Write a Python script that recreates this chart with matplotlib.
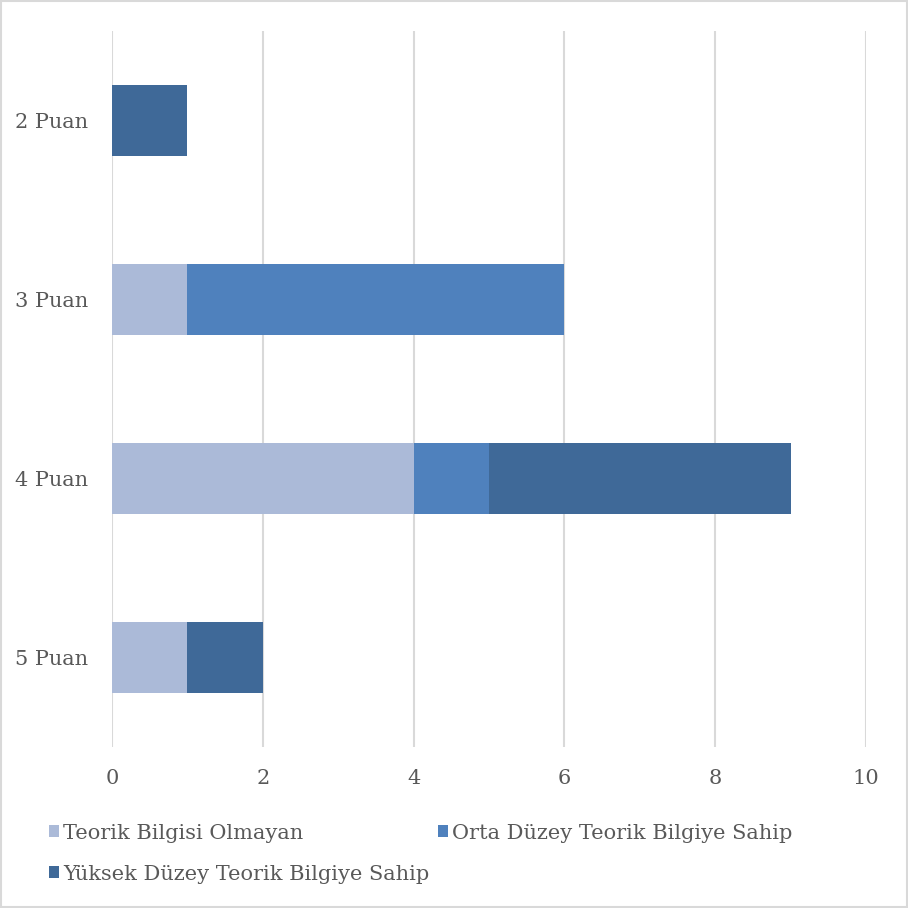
import matplotlib
matplotlib.use('Agg')
import matplotlib.pyplot as plt
from matplotlib.patches import Rectangle
import numpy as np

categories = ['2 Puan', '3 Puan', '4 Puan', '5 Puan']
teorik_yok = [0, 1, 4, 1]
orta_duzey = [0, 5, 1, 0]
yuksek_duzey = [1, 0, 4, 1]
series_names = ['Teorik Bilgisi Olmayan', 'Orta Düzey Teorik Bilgiye Sahip',
                'Yüksek Düzey Teorik Bilgiye Sahip']
colors = ['#abbad8', '#4f81bd', '#3f6998']
x_ticks = [0, 2, 4, 6, 8, 10]

plt.rcParams['font.family'] = ['DejaVu Serif']
text_color = '#595959'

fig = plt.figure(figsize=(9.08, 9.08), dpi=100)
ax = fig.add_axes([112 / 908, 1 - 747 / 908, 754 / 908, 716 / 908])

y = np.arange(len(categories))
left = np.zeros(len(categories))
bars = []
for vals, name, c in zip([teorik_yok, orta_duzey, yuksek_duzey], series_names, colors):
    b = ax.barh(y, vals, left=left, height=0.4, color=c, label=name, zorder=3)
    bars.append(b)
    left = left + np.array(vals)

ax.set_xlim(0, 10)
ax.set_ylim(len(categories) - 0.5, -0.5)
ax.set_xticks(x_ticks)
ax.set_yticks(y)
ax.set_yticklabels(categories)
ax.tick_params(axis='both', length=0, labelsize=15, colors=text_color)
ax.tick_params(axis='x', pad=16)
ax.tick_params(axis='y', pad=17)
ax.grid(axis='x', color='#d9d9d9', linewidth=1.5, zorder=0)
for s in ax.spines.values():
    s.set_visible(False)

# column-wise fill, so reorder to get row-wise layout
handles = [bars[0], bars[2], bars[1]]
labels = [series_names[0], series_names[2], series_names[1]]
fig.legend(handles, labels, ncol=2, loc='upper left', bbox_to_anchor=(30 / 908, 1 - 805 / 908),
           frameon=False, fontsize=15, handlelength=0.5, handleheight=0.5,
           handletextpad=0.2, columnspacing=0.4, labelspacing=1.05,
           labelcolor=text_color)

fig.patches.append(Rectangle((0.001, 0.001), 0.998, 0.998, transform=fig.transFigure,
                             fill=False, edgecolor='#d9d9d9', linewidth=1.5))

fig.savefig('out.png', dpi=100)
